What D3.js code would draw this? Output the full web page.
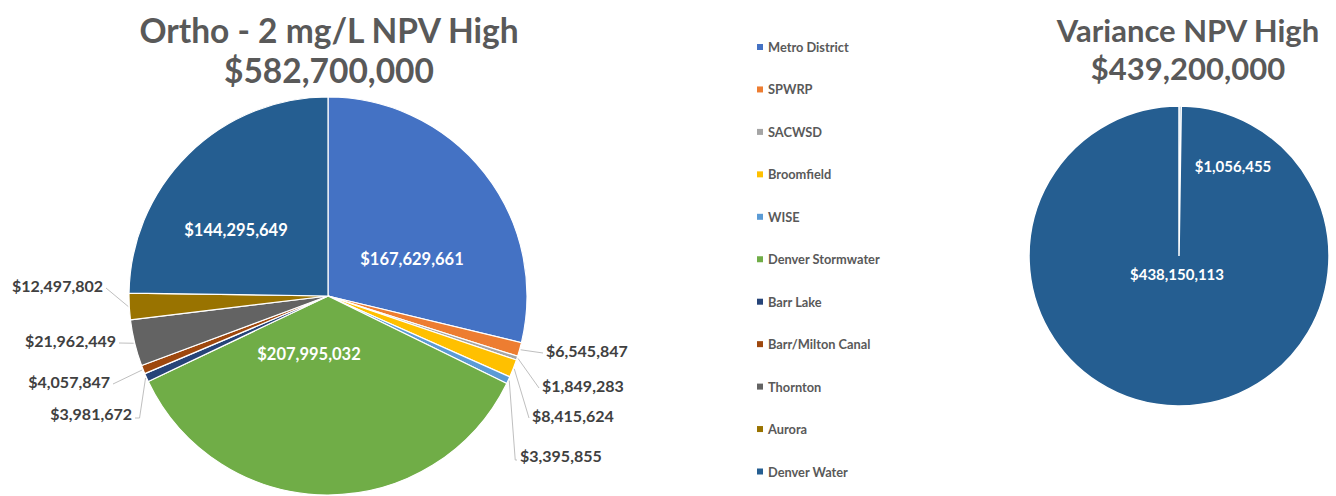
<!DOCTYPE html>
<html>
<head>
<meta charset="utf-8">
<script src="https://cdn.jsdelivr.net/npm/d3@7"></script>
<style>
  html, body { margin: 0; padding: 0; background: #fff; }
  svg { display: block; font-family: Lato, "Open Sans", sans-serif; }
</style>
</head>
<body>
<svg id="chart" width="1336" height="496"></svg>
<script>
// Participants in the Ortho - 2 mg/L scenario (pie order, clockwise from 12 o'clock)
const categories = ["Metro District", "SPWRP", "SACWSD", "Broomfield", "WISE",
  "Denver Stormwater", "Barr Lake", "Barr/Milton Canal", "Thornton", "Aurora", "Denver Water"];
const orthoValues = [167629661, 6545847, 1849283, 8415624, 3395855,
  207995032, 3981672, 4057847, 21962449, 12497802, 144295649];
const orthoTotal = 582700000;

// Variance scenario: two slices
const varianceValues = [1056455, 438150113];
const varianceTotal = 439200000;

const palette = ["#4472C4", "#ED7D31", "#A5A5A5", "#FFC000", "#5B9BD5",
  "#70AD47", "#264478", "#9E480E", "#636363", "#997300", "#255E91"];

const svg = d3.select("#chart");
const money = v => "$" + d3.format(",")(v);
const color = d3.scaleOrdinal().domain(categories).range(palette);

// ---------- Left pie ----------
const L = { cx: 328, cy: 296, r: 199 };
const pie = d3.pie().sort(null).value(d => d.v);
const arc = d3.arc().innerRadius(0).outerRadius(L.r);
const leftData = pie(categories.map((c, i) => ({ c, v: orthoValues[i] })));

const gL = svg.append("g").attr("transform", `translate(${L.cx},${L.cy})`);
gL.selectAll("path").data(leftData).join("path")
  .attr("d", arc)
  .attr("fill", d => color(d.data.c))
  .attr("stroke", "#fff")
  .attr("stroke-width", 1.2);

// label placement relative to the pie centre; "inside" labels sit in the slice
const leftLabelLayout = [
  { x: 84, y: -37, inside: true },                        // Metro District
  { x: 218, y: 54, anchor: "start" },                     // SPWRP
  { x: 214, y: 89, anchor: "start" },                     // SACWSD
  { x: 204, y: 119, anchor: "start" },                    // Broomfield
  { x: 192, y: 159, anchor: "start", vertical: true },    // WISE
  { x: -19, y: 58, inside: true },                        // Denver Stormwater
  { x: -196, y: 117, anchor: "end", vertical: true },     // Barr Lake
  { x: -218, y: 85, anchor: "end" },                      // Barr/Milton Canal
  { x: -212, y: 44, anchor: "end" },                      // Thornton
  { x: -225, y: -11, anchor: "end" },                     // Aurora
  { x: -92, y: -66, inside: true }                        // Denver Water
];

const edgePoint = (d, rr) => {
  const a = (d.startAngle + d.endAngle) / 2;
  return [rr * Math.sin(a), -rr * Math.cos(a)];
};

leftData.forEach((d, i) => {
  const lay = leftLabelLayout[i];
  if (lay.inside) {
    gL.append("text")
      .attr("x", lay.x).attr("y", lay.y)
      .attr("text-anchor", "middle").attr("dominant-baseline", "central")
      .attr("fill", "#fff").attr("font-weight", 700).attr("font-size", 16.5)
      .text(money(d.data.v));
    return;
  }
  const [px, py] = edgePoint(d, L.r + 1);
  const tx = lay.anchor === "start" ? lay.x - 3 : lay.x + 3;
  const pts = lay.vertical ? [[px, py], [px + (lay.anchor === "start" ? 6 : -6), lay.y + 5], [tx, lay.y + 5]]
                           : [[px, py], [tx, lay.y + 3]];
  gL.append("path")
    .attr("d", d3.line()(pts))
    .attr("fill", "none").attr("stroke", "#bfbfbf").attr("stroke-width", 1);
  gL.append("text")
    .attr("x", lay.x).attr("y", lay.y)
    .attr("text-anchor", lay.anchor).attr("dominant-baseline", "central")
    .attr("fill", "#404040").attr("font-weight", 700).attr("font-size", 16)
    .text(money(d.data.v));
});

// ---------- Titles ----------
function title(x, lines, sizes, baselines) {
  lines.forEach((t, i) => {
    svg.append("text").attr("x", x).attr("y", baselines[i])
      .attr("text-anchor", "middle").attr("fill", "#595959")
      .attr("font-weight", 700).attr("font-size", sizes[i]).text(t);
  });
}
title(329, ["Ortho - 2 mg/L NPV High", money(orthoTotal)], [33.5, 33.5], [43, 83]);
title(1188, ["Variance NPV High", money(varianceTotal)], [31, 31], [42, 80]);

// ---------- Legend ----------
const leg = svg.append("g").attr("transform", "translate(757,47)");
const rows = leg.selectAll("g").data(categories).join("g")
  .attr("transform", (d, i) => `translate(0,${i * 42.45})`);
rows.append("rect").attr("x", 0).attr("y", -3).attr("width", 6).attr("height", 6)
  .attr("fill", d => color(d));
rows.append("text").attr("x", 11).attr("y", 0).attr("dominant-baseline", "central")
  .attr("fill", "#595959").attr("font-weight", 700).attr("font-size", 12.8).text(d => d);

// ---------- Right pie ----------
const R = { cx: 1179, cy: 256, r: 150 };
const arcR = d3.arc().innerRadius(0).outerRadius(R.r);
const rightData = d3.pie().sort(null)(varianceValues);
const gR = svg.append("g").attr("transform", `translate(${R.cx},${R.cy})`);
gR.selectAll("path").data(rightData).join("path")
  .attr("d", arcR)
  .attr("fill", "#255E91")
  .attr("stroke", "#fff").attr("stroke-width", 1.5);

const rightLabelLayout = [{ x: 54, y: -90 }, { x: -2, y: 18 }];
rightData.forEach((d, i) => {
  gR.append("text")
    .attr("x", rightLabelLayout[i].x).attr("y", rightLabelLayout[i].y)
    .attr("text-anchor", "middle").attr("dominant-baseline", "central")
    .attr("fill", "#fff").attr("font-weight", 700).attr("font-size", 15)
    .text(money(d.data));
});
</script>
</body>
</html>
